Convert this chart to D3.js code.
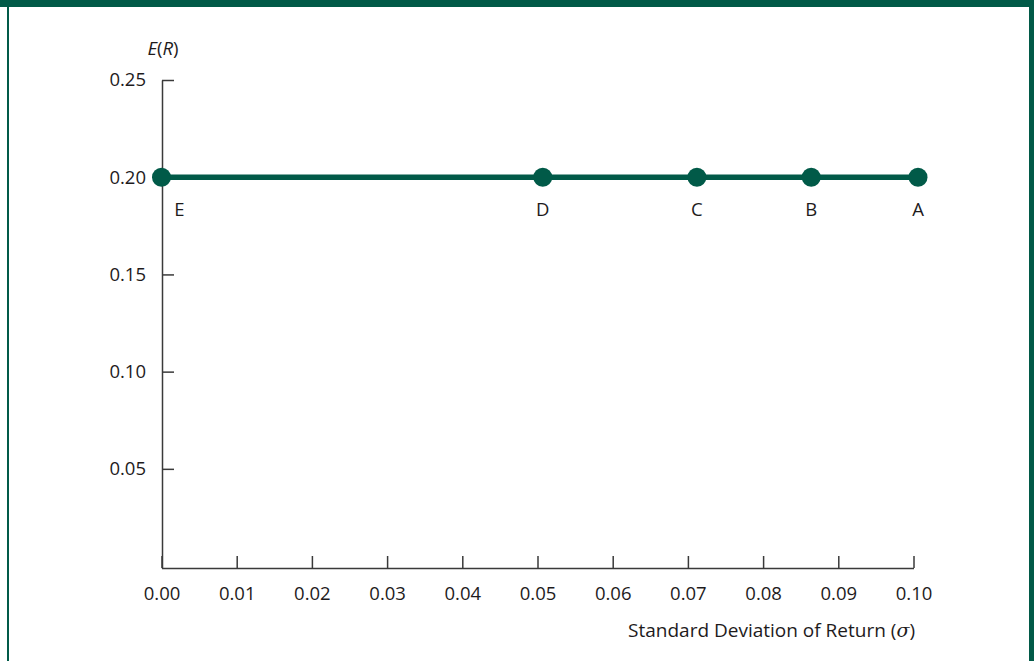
<!DOCTYPE html>
<html>
<head>
<meta charset="utf-8">
<script src="https://cdn.jsdelivr.net/npm/d3@7"></script>
<style>
  html, body { margin: 0; padding: 0; background: #fff; }
  svg { display: block; }
  text { font-family: "Open Sans", "Noto Sans", sans-serif; fill: #1e1b1c; }
</style>
</head>
<body>
<svg id="chart" width="1034" height="661"></svg>
<script>
// Data
const portfolios = ["E", "D", "C", "B", "A"];
const sigma = [0.0, 0.0507, 0.0712, 0.0864, 0.1006];
const expReturn = [0.20, 0.20, 0.20, 0.20, 0.20];
const xTicks = [0.00, 0.01, 0.02, 0.03, 0.04, 0.05, 0.06, 0.07, 0.08, 0.09, 0.10];
const yTicks = [0.05, 0.10, 0.15, 0.20, 0.25];

const green = "#015a48";
const axisColor = "#3a3a3a";
const fs = "18.5px";

const svg = d3.select("#chart");

// Frame
svg.append("rect").attr("x", 0).attr("y", 0).attr("width", 1034).attr("height", 7).attr("fill", green);
svg.append("rect").attr("x", 7).attr("y", 0).attr("width", 2).attr("height", 661).attr("fill", green);
svg.append("rect").attr("x", 1029).attr("y", 0).attr("width", 5).attr("height", 661).attr("fill", green);

const x = d3.scaleLinear().domain([0, 0.10]).range([161.5, 913.5]);
const y = d3.scaleLinear().domain([-0.001, 0.25]).range([568, 80]);

// Y axis
const yAxis = svg.append("g")
  .attr("transform", `translate(162,0)`)
  .call(d3.axisLeft(y).tickValues(yTicks).tickFormat(d3.format(".2f"))
    .tickSizeInner(-12).tickSizeOuter(0).tickPadding(16));
yAxis.select(".domain").attr("stroke", axisColor).attr("stroke-width", 1.5);
yAxis.selectAll(".tick line").attr("stroke", axisColor).attr("stroke-width", 1.5);
yAxis.selectAll(".tick text").style("font-size", fs).attr("fill", "#1e1b1c")
  .style("font-family", "'Open Sans', 'Noto Sans', sans-serif");

// X axis
const xAxis = svg.append("g")
  .attr("transform", `translate(0,568)`)
  .call(d3.axisBottom(x).tickValues(xTicks).tickFormat(d3.format(".2f"))
    .tickSizeInner(-12).tickSizeOuter(0).tickPadding(18.5));
xAxis.select(".domain").attr("stroke", axisColor).attr("stroke-width", 1.5);
xAxis.selectAll(".tick line").attr("stroke", axisColor).attr("stroke-width", 1.5);
xAxis.selectAll(".tick text").style("font-size", fs).attr("fill", "#1e1b1c")
  .style("font-family", "'Open Sans', 'Noto Sans', sans-serif");

// Axis titles
const yTitle = svg.append("text").attr("x", 163).attr("y", 55)
  .attr("text-anchor", "middle").style("font-size", fs);
yTitle.append("tspan").style("font-style", "italic").text("E");
yTitle.append("tspan").text("(");
yTitle.append("tspan").style("font-style", "italic").text("R");
yTitle.append("tspan").text(")");

const xTitle = svg.append("text").attr("x", 915).attr("y", 637)
  .attr("text-anchor", "end").style("font-size", "19px");
xTitle.append("tspan").text("Standard Deviation of Return (");
xTitle.append("tspan").style("font-style", "italic").style("font-family", "'DejaVu Serif', serif").text("σ");
xTitle.append("tspan").text(")");

// Data
const data = portfolios.map((p, i) => ({ name: p, s: sigma[i], r: expReturn[i] }));

svg.append("path")
  .datum(data)
  .attr("fill", "none")
  .attr("stroke", green)
  .attr("stroke-width", 5.5)
  .attr("d", d3.line().x(d => x(d.s)).y(d => y(d.r)));

svg.selectAll("circle.pt").data(data).enter().append("circle")
  .attr("class", "pt")
  .attr("cx", d => x(d.s)).attr("cy", d => y(d.r)).attr("r", 9.5)
  .attr("fill", green);

svg.selectAll("text.lbl").data(data).enter().append("text")
  .attr("class", "lbl")
  .attr("x", d => x(d.s) + (d.name === "E" ? 18 : 0))
  .attr("y", d => y(d.r) + 39)
  .attr("text-anchor", "middle")
  .style("font-size", fs)
  .text(d => d.name);
</script>
</body>
</html>
